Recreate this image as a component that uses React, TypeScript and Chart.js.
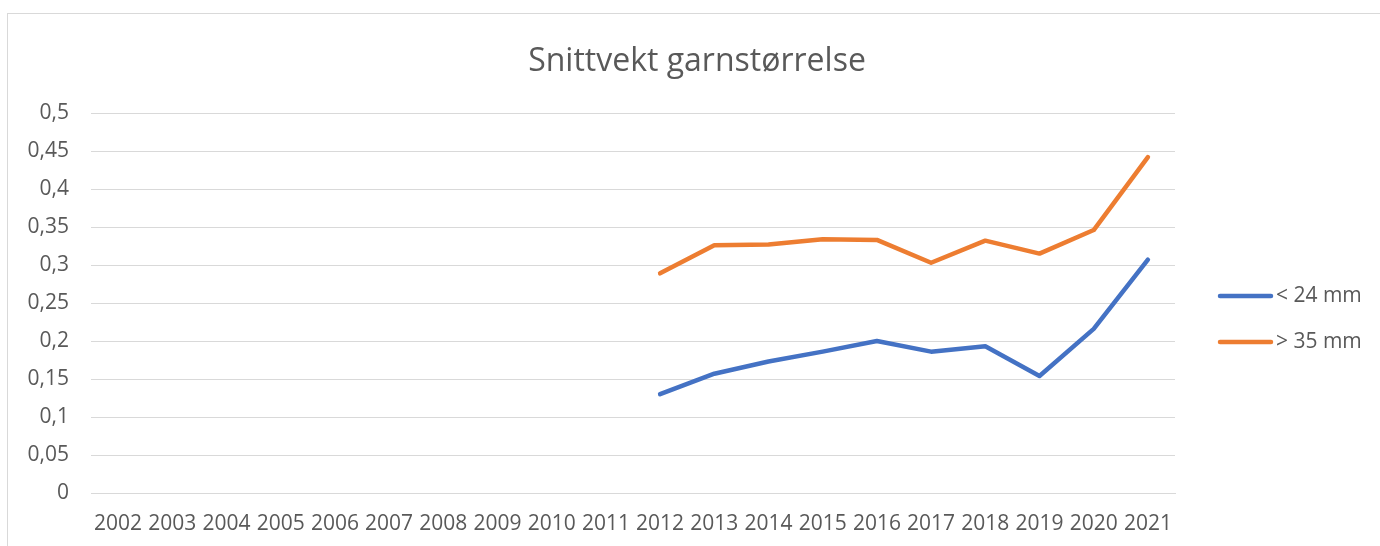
import React, { useEffect, useRef } from "react";
import { Chart, registerables } from "chart.js";

Chart.register(...registerables);

const years = ["2002","2003","2004","2005","2006","2007","2008","2009","2010","2011","2012","2013","2014","2015","2016","2017","2018","2019","2020","2021"];
const under24 = [null,null,null,null,null,null,null,null,null,null,0.130,0.157,0.173,0.186,0.200,0.186,0.193,0.154,0.216,0.307];
const over35 = [null,null,null,null,null,null,null,null,null,null,0.289,0.326,0.327,0.334,0.333,0.303,0.332,0.315,0.346,0.442];
const seriesNames = ["< 24 mm", "> 35 mm"];
const colors = ["#4472C4", "#ED7D31"];
const FONT = "'Open Sans', 'Noto Sans', sans-serif";
const TEXT = "#595959";
const GRID = "#d9d9d9";

const borderPlugin = {
  id: "outerBorder",
  beforeDraw(chart: any) {
    const ctx = chart.ctx;
    ctx.save();
    ctx.strokeStyle = GRID;
    ctx.lineWidth = 1;
    ctx.strokeRect(7.5, 13.5, chart.width + 10, chart.height + 10);
    ctx.restore();
  },
};

const legendPlugin = {
  id: "sideLegend",
  afterDraw(chart: any) {
    const ctx = chart.ctx;
    const area = chart.chartArea;
    ctx.save();
    chart.data.datasets.forEach((ds: any, i: number) => {
      const y = area.top + 183 + i * 46;
      const x0 = area.right + 43;
      ctx.strokeStyle = ds.borderColor;
      ctx.lineWidth = 4.5;
      ctx.lineCap = "round";
      ctx.beginPath();
      ctx.moveTo(x0 + 2, y);
      ctx.lineTo(x0 + 53, y);
      ctx.stroke();
      ctx.fillStyle = TEXT;
      ctx.font = `21px ${FONT}`;
      ctx.textBaseline = "middle";
      ctx.textAlign = "left";
      ctx.fillText(ds.label, x0 + 58, y);
    });
    ctx.restore();
  },
};

export default function App() {
  const ref = useRef<HTMLCanvasElement>(null);
  useEffect(() => {
    if (!ref.current) return;
    const chart = new Chart(ref.current, {
      type: "line",
      data: {
        labels: years,
        datasets: [under24, over35].map((d, i) => ({
          label: seriesNames[i],
          data: d,
          borderColor: colors[i],
          backgroundColor: colors[i],
          borderWidth: 4.5,
          borderCapStyle: "round",
          borderJoinStyle: "round",
          pointRadius: 0,
          tension: 0,
          spanGaps: false,
          yAxisID: "y",
        })),
      },
      options: {
        animation: false,
        responsive: false,
        layout: { padding: { left: 14, right: 0, top: 13, bottom: 11 } },
        plugins: {
          legend: { display: false },
          tooltip: { enabled: false },
          title: {
            display: true,
            text: "Snittvekt garnstørrelse",
            color: TEXT,
            font: { family: FONT, size: 32, weight: "normal" },
            padding: { top: 30, bottom: 31.6 },
          },
        },
        scales: {
          x: {
            offset: true,
            afterFit(scale: any) { scale.height = 42; },
            grid: { display: false, drawTicks: false },
            border: { display: true, color: GRID, width: 1 },
            ticks: {
              color: TEXT,
              font: { family: FONT, size: 21 },
              padding: 18,
              autoSkip: false,
              maxRotation: 0,
              minRotation: 0,
            },
          },
          y: {
            min: 0,
            max: 0.5,
            afterFit(scale: any) { scale.width = 77; },
            grid: { color: GRID, lineWidth: 1, drawTicks: false },
            border: { display: false },
            ticks: {
              stepSize: 0.05,
              color: TEXT,
              font: { family: FONT, size: 21 },
              padding: 22,
              callback: (v: any) => parseFloat(Number(v).toFixed(2)).toString().replace(".", ","),
            },
          },
          y2: {
            type: "linear",
            position: "right",
            display: true,
            afterFit(scale: any) { scale.width = 205; },
            grid: { display: false, drawTicks: false },
            border: { display: false },
            ticks: { display: false },
          },
        },
      },
      plugins: [borderPlugin, legendPlugin],
    } as any);
    return () => chart.destroy();
  }, []);
  return (
    <div style={{ position: "absolute", left: 0, top: 0, width: 1380, height: 546, background: "#fff" }}>
      <canvas ref={ref} width={1380} height={546} style={{ display: "block" }} />
    </div>
  );
}
